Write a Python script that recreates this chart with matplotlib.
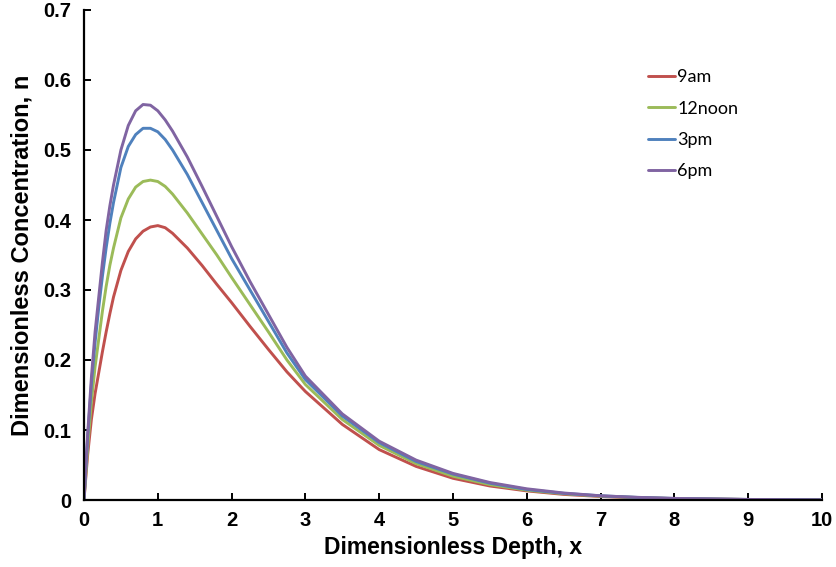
#!/usr/bin/python3

# dimensionless concentration profiles at four times of day

import matplotlib
matplotlib.use('Agg')
import matplotlib.pyplot as plt
from matplotlib.ticker import FuncFormatter, MultipleLocator

# values
depth = [0, 0.05, 0.1, 0.15, 0.2, 0.25, 0.3, 0.35, 0.4, 0.5, 0.6, 0.7, 0.8,
         0.9, 1.0, 1.1, 1.2, 1.4, 1.6, 1.8, 2.0, 2.25, 2.5, 2.75, 3.0, 3.5,
         4.0, 4.5, 5.0, 5.5, 6.0, 6.5, 7.0, 7.5, 8.0, 9.0, 10.0]

conc_9am = [0, 0.065, 0.115, 0.152, 0.182, 0.212, 0.24, 0.266, 0.29, 0.328,
            0.355, 0.373, 0.384, 0.390, 0.392, 0.389, 0.381, 0.360, 0.335,
            0.308, 0.282, 0.248, 0.215, 0.183, 0.155, 0.108, 0.072, 0.048,
            0.031, 0.020, 0.013, 0.008, 0.005, 0.003, 0.002, 0.0007, 0.0002]
conc_12noon = [0, 0.075, 0.14, 0.19, 0.23, 0.27, 0.305, 0.335, 0.36, 0.403,
               0.43, 0.447, 0.455, 0.457, 0.455, 0.448, 0.437, 0.41, 0.38,
               0.35, 0.318, 0.279, 0.240, 0.200, 0.165, 0.115, 0.078, 0.052,
               0.034, 0.022, 0.014, 0.009, 0.0055, 0.0035, 0.002, 0.0007, 0.0002]
conc_3pm = [0, 0.09, 0.165, 0.225, 0.275, 0.32, 0.36, 0.395, 0.425, 0.475,
            0.505, 0.522, 0.531, 0.531, 0.526, 0.515, 0.500, 0.465, 0.425,
            0.385, 0.345, 0.300, 0.255, 0.210, 0.172, 0.120, 0.082, 0.055,
            0.037, 0.024, 0.015, 0.0095, 0.006, 0.0037, 0.0022, 0.0008, 0.0002]
conc_6pm = [0, 0.095, 0.175, 0.24, 0.29, 0.34, 0.385, 0.42, 0.45, 0.50,
            0.535, 0.556, 0.565, 0.564, 0.556, 0.543, 0.527, 0.49, 0.448,
            0.405, 0.362, 0.312, 0.265, 0.218, 0.177, 0.123, 0.084, 0.057,
            0.038, 0.025, 0.016, 0.010, 0.006, 0.0038, 0.0023, 0.0008, 0.0002]

labels = ['9am', '12noon', '3pm', '6pm']
colors = ['#C0504D', '#9BBB59', '#4F81BD', '#8064A2']

plt.rcParams['font.family'] = ['Liberation Sans', 'DejaVu Sans']
plt.rcParams['font.weight'] = 'bold'

fig = plt.figure(figsize=(8.37, 5.67), dpi=100)
ax = fig.add_axes([84 / 837, 1 - 500 / 567, 738 / 837, 490 / 567])

for ys, lab, col in zip([conc_9am, conc_12noon, conc_3pm, conc_6pm], labels, colors):
    ax.plot(depth, ys, color=col, lw=2.1, label=lab, solid_capstyle='round')

ax.set_xlim(0, 10)
ax.set_ylim(0, 0.7)
ax.xaxis.set_major_locator(MultipleLocator(1))
ax.yaxis.set_major_locator(MultipleLocator(0.1))
ax.yaxis.set_major_formatter(FuncFormatter(lambda v, p: '0' if abs(v) < 1e-9 else f'{v:.1f}'))

for side in ['top', 'right']:
    ax.spines[side].set_visible(False)
for side in ['left', 'bottom']:
    ax.spines[side].set_linewidth(1.6)

ax.tick_params(direction='in', length=5, width=1.4, labelsize=14.5)
ax.tick_params(axis='y', pad=9)
ax.tick_params(axis='x', pad=8)

ax.set_xlabel('Dimensionless Depth, x', fontsize=16.5, fontweight='bold', labelpad=4)
ax.set_ylabel('Dimensionless Concentration, n', fontsize=17, fontweight='bold', labelpad=7)

ax.legend(loc='upper left', bbox_to_anchor=(0.755, 0.894), frameon=False,
          prop={'family': 'Lato', 'weight': 'normal', 'size': 13}, handlelength=1.45,
          handletextpad=0.15, labelspacing=0.85, borderaxespad=0)

fig.savefig('out.png', dpi=100)
